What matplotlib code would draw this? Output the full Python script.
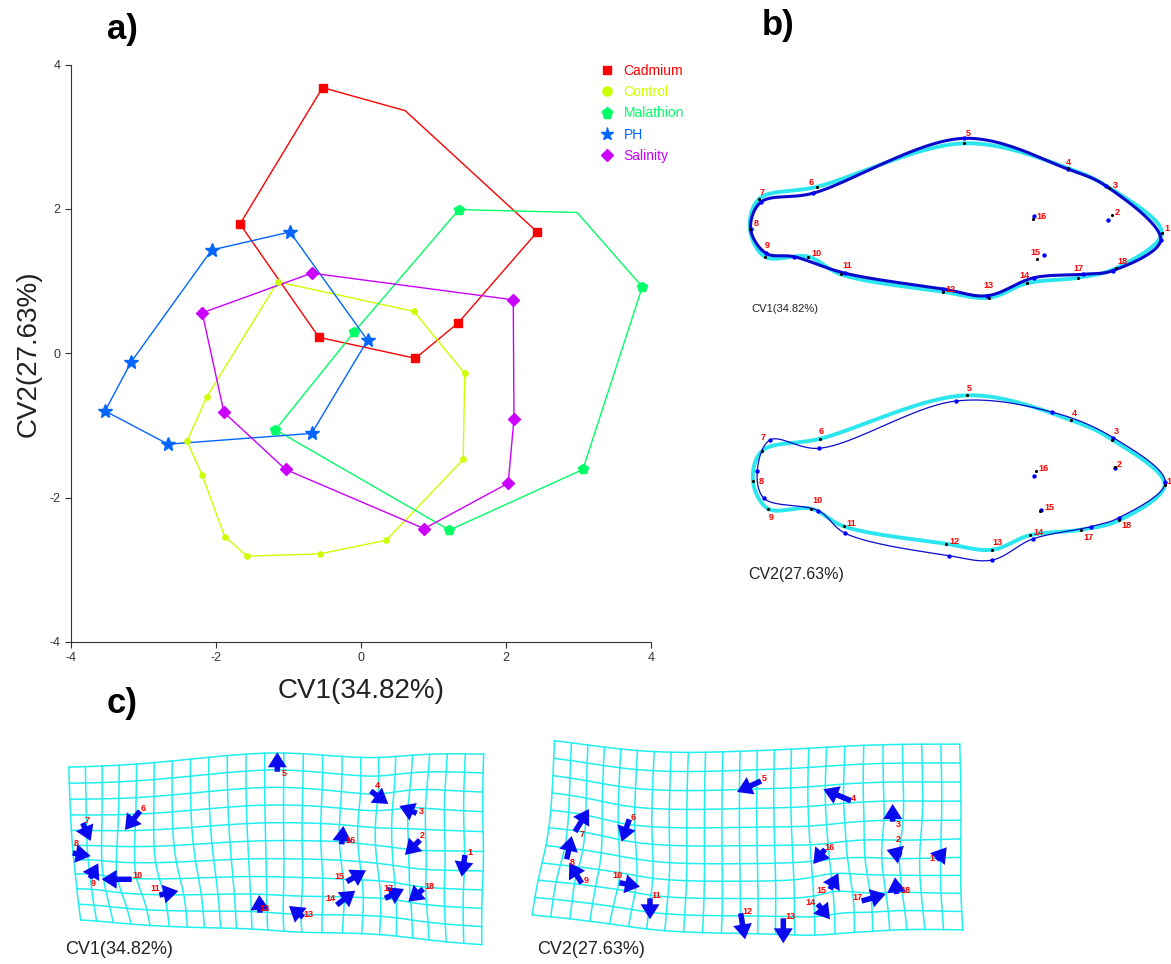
import numpy as np
import matplotlib
matplotlib.use("Agg")
import matplotlib.pyplot as plt
from matplotlib.lines import Line2D

plt.rcParams["font.family"] = ["Liberation Sans", "DejaVu Sans"]
plt.rcParams["axes.unicode_minus"] = False

W, H = 1171, 964

# ---- a) CV scores, outline polygon per group (hull vertices in drawing order)
GROUPS = ["Cadmium", "Control", "Malathion", "PH", "Salinity"]
COLORS = ["#FF0000", "#CCFF00", "#00FF66", "#0066FF", "#CC00FF"]
MARKERS = ["s", "o", "p", "*", "D"]
MSIZE = [5.5, 3.8, 7.5, 10, 6]

cad_x = [-0.53, 2.43, 1.34, 0.75, -0.58, -1.67]
cad_y = [3.68, 1.68, 0.42, -0.07, 0.22, 1.79]
cad_hull_x = [-0.53, 0.61, 2.43, 1.34, 0.75, -0.58, -1.67]
cad_hull_y = [3.68, 3.36, 1.68, 0.42, -0.07, 0.22, 1.79]

ctl_x = [-1.15, 0.73, 1.43, 1.41, 0.35, -0.57, -1.57, -1.88, -2.19, -2.40, -2.13]
ctl_y = [0.99, 0.58, -0.28, -1.47, -2.59, -2.78, -2.81, -2.54, -1.69, -1.22, -0.61]

mal_x = [1.35, 3.88, 3.06, 1.22, -1.18, -0.09]
mal_y = [1.99, 0.92, -1.61, -2.45, -1.06, 0.30]
mal_hull_x = [1.35, 2.98, 3.88, 3.06, 1.22, -1.18, -0.09]
mal_hull_y = [1.99, 1.95, 0.92, -1.61, -2.45, -1.06, 0.30]

ph_x = [-0.98, -2.06, -3.17, -3.53, -2.66, -0.68, 0.09]
ph_y = [1.68, 1.43, -0.12, -0.80, -1.26, -1.11, 0.18]

sal_x = [-0.68, 2.10, 2.11, 2.03, 0.87, -1.04, -1.89, -2.19]
sal_y = [1.11, 0.74, -0.91, -1.80, -2.43, -1.61, -0.82, 0.56]

POINTS = [(cad_x, cad_y), (ctl_x, ctl_y), (mal_x, mal_y), (ph_x, ph_y), (sal_x, sal_y)]
HULLS = [(cad_hull_x, cad_hull_y), (ctl_x, ctl_y), (mal_hull_x, mal_hull_y),
         (ph_x, ph_y), (sal_x, sal_y)]

# ---- b) landmark configurations (consensus and CV shape changes), 18 landmarks
cons_x = [1161.7, 1111.7, 1109.3, 1068.3, 964.3, 817.3, 759.0, 750.0, 765.0,
          808.3, 840.7, 942.7, 989.3, 1026.7, 1037.3, 1033.3, 1078.3, 1116.0]
cons_y = [232.7, 215.0, 187.7, 168.3, 143.3, 186.7, 199.0, 229.3, 256.7,
          256.7, 274.3, 291.7, 297.7, 283.3, 259.3, 219.3, 277.7, 268.3]
cv1_x = [1160.7, 1107.7, 1106.0, 1068.3, 964.3, 812.7, 760.7, 750.7, 766.0,
         794.0, 845.3, 943.3, 987.3, 1034.0, 1044.0, 1034.0, 1083.3, 1112.7]
cv1_y = [240.0, 219.7, 186.0, 169.3, 138.3, 193.3, 202.3, 229.3, 253.3,
         256.7, 273.3, 289.0, 295.7, 277.7, 255.0, 215.7, 274.3, 270.7]
cv2_x = [1162.3, 1112.0, 1110.3, 1048.7, 953.0, 816.0, 767.0, 754.3, 761.0,
         815.3, 842.3, 946.0, 989.3, 1029.7, 1038.3, 1031.0, 1087.7, 1116.0]
cv2_y = [230.3, 216.3, 185.7, 160.0, 149.0, 196.3, 188.0, 218.7, 246.3,
         258.7, 281.3, 303.7, 308.0, 287.0, 258.0, 223.7, 274.7, 265.7]
OUTLINE = [1, 3, 4, 5, 6, 7, 8, 9, 10, 11, 12, 13, 14, 17, 18]
LBL_B1 = [(5, -4.3), (5.7, -2.3), (6.3, -2), (0, -6), (4, -10), (-6.3, -4),
          (3.3, -6.7), (6.7, -5.3), (2.7, -10.7), (8.3, -3.3), (7, -8.7), (8, -2.7),
          (-1, -11.7), (-2.3, -8), (-1.7, -7), (8.3, -2.7), (0, -9), (6.3, -7)]
LBL_B2 = [(4.3, -3.3), (4.3, -2.3), (4, -8.7), (3.3, -7), (2, -7), (0.7, -7),
          (0.7, -13.3), (8.3, 0), (3.3, 8.3), (5.7, -8.3), (7.3, -2.7), (8.3, -2.7),
          (5, -7), (9, -3), (9, -3.7), (7.3, -2.3), (6.7, 7.7), (7.7, 5)]

# ---- c) deformation grids: arrow tails (consensus) and heads
c1_tx = [465.0, 420.0, 416.7, 370.7, 277.3, 140.0, 82.7, 72.7, 90.0,
         131.7, 159.3, 260.0, 303.3, 336.7, 346.7, 341.7, 385.0, 423.3]
c1_ty = [855.0, 840.0, 813.3, 791.0, 771.7, 811.0, 823.0, 853.0, 878.3,
         879.3, 895.0, 912.7, 917.3, 905.0, 881.7, 844.3, 898.3, 889.0]
c1_hx = [461.7, 405.0, 399.3, 388.3, 277.3, 125.0, 90.7, 90.7, 98.3,
         101.7, 178.3, 259.3, 289.0, 355.3, 366.0, 343.3, 404.0, 408.3]
c1_hy = [876.7, 855.0, 806.0, 804.0, 752.3, 830.0, 841.0, 856.0, 863.3,
         879.3, 891.0, 895.0, 906.0, 890.7, 870.3, 826.0, 889.0, 901.7]
c2_tx = [936.7, 901.7, 892.7, 851.0, 761.0, 629.3, 575.0, 566.7, 581.7,
         619.3, 650.0, 740.7, 783.3, 817.7, 830.0, 825.0, 861.7, 896.7]
c2_ty = [860.0, 855.0, 821.7, 800.7, 781.0, 819.3, 831.7, 859.3, 883.3,
         882.7, 898.3, 913.3, 918.3, 904.0, 889.3, 849.3, 901.0, 894.0]
c2_hx = [946.7, 886.7, 892.7, 823.3, 737.0, 621.7, 589.0, 571.7, 569.3,
         640.0, 650.0, 745.0, 783.3, 830.0, 838.3, 813.3, 885.7, 895.0]
c2_hy = [847.3, 850.0, 804.0, 789.3, 792.0, 841.7, 809.0, 836.0, 862.7,
         886.7, 919.3, 939.3, 943.3, 919.3, 873.3, 864.0, 894.0, 877.3]
# grid corners TL, TR, BR, BL
c1_corners = [(64, 760), (484, 753), (483, 941), (72, 927)]
c2_corners = [(554, 748), (955, 753), (957, 933), (539, 923)]
LBL_C1 = [(5, -2.3), (2.7, -4.3), (5, -1.6), (6.6, -5.3), (6.7, 1.6), (3.3, -2),
          (4.6, -2), (3.3, -9.3), (3.3, 5), (5.6, -3.3), (-4.3, -6.7), (4, -3.7),
          (5, -3), (-6, -6), (-7.4, -5), (9.3, -3.3), (3.3, -9.3), (6, -2.3)]
LBL_C2 = [(-4.4, -1.7), (-3.4, -15), (5.6, 2.6), (2.3, -2.4), (3.3, -2.7), (4, -2),
          (6.7, 2.6), (6, 3.4), (4.3, -2.6), (-2, -6.7), (6, -2.3), (7, -1.6),
          (6.7, -1.6), (-7.7, -1.7), (-9, 1.4), (5, -2), (-4, -3.7), (8.3, -3.3)]
NCOL, NROW = 23, 10
GRID_GAIN = 0.22


def px_axes(fig, x0, y0, w, h, dx=0, dy=0):
    """axes placed by figure pixels, data units = pixels (shifted by dx, dy)"""
    ax = fig.add_axes([x0 / W, 1 - (y0 + h) / H, w / W, h / H])
    ax.set_xlim(x0 - dx, x0 - dx + w)
    ax.set_ylim(y0 - dy + h, y0 - dy)
    ax.axis("off")
    return ax


def catmull_closed(px, py, n=24, alpha=0.5):
    P = np.column_stack([px, py]).astype(float)
    N = len(P)
    out = []
    for i in range(N):
        p0, p1, p2, p3 = P[(i - 1) % N], P[i], P[(i + 1) % N], P[(i + 2) % N]
        t0 = 0.0
        t1 = t0 + np.linalg.norm(p1 - p0) ** alpha
        t2 = t1 + np.linalg.norm(p2 - p1) ** alpha
        t3 = t2 + np.linalg.norm(p3 - p2) ** alpha
        t = np.linspace(t1, t2, n, endpoint=False)[:, None]
        a1 = (t1 - t) / (t1 - t0) * p0 + (t - t0) / (t1 - t0) * p1
        a2 = (t2 - t) / (t2 - t1) * p1 + (t - t1) / (t2 - t1) * p2
        a3 = (t3 - t) / (t3 - t2) * p2 + (t - t2) / (t3 - t2) * p3
        b1 = (t2 - t) / (t2 - t0) * a1 + (t - t0) / (t2 - t0) * a2
        b2 = (t3 - t) / (t3 - t1) * a2 + (t - t1) / (t3 - t1) * a3
        out.append((t2 - t) / (t2 - t1) * b1 + (t - t1) / (t2 - t1) * b2)
    out.append(P[:1])
    c = np.vstack(out)
    return c[:, 0], c[:, 1]


def tps_disp(src, disp, pts, scale=100.0):
    s, p = src / scale, pts / scale
    n = len(s)

    def U(r):
        with np.errstate(divide="ignore", invalid="ignore"):
            v = r ** 2 * np.log(r)
        return np.nan_to_num(v)

    L = np.zeros((n + 3, n + 3))
    L[:n, :n] = U(np.linalg.norm(s[:, None] - s[None], axis=2))
    Pm = np.hstack([np.ones((n, 1)), s])
    L[:n, n:] = Pm
    L[n:, :n] = Pm.T
    rhs = np.zeros((n + 3, 2))
    rhs[:n] = disp
    coef = np.linalg.solve(L, rhs)
    Kp = U(np.linalg.norm(p[:, None] - s[None], axis=2))
    return Kp @ coef[:n] + np.hstack([np.ones((len(p), 1)), p]) @ coef[n:]


def draw_outline_panel(ax, tx, ty, lw_target, lbl):
    o = [i - 1 for i in OUTLINE]
    cx, cy = catmull_closed(np.array(cons_x)[o], np.array(cons_y)[o])
    ax.plot(cx, cy, color="#2BE6EE", lw=2.8, solid_capstyle="round", zorder=1)
    bx, by = catmull_closed(np.array(tx)[o], np.array(ty)[o])
    ax.plot(bx, by, color="#0A0ACD", lw=lw_target, zorder=2)
    ax.scatter(tx, ty, s=10, color="#0000FF", zorder=3, lw=0)
    ax.scatter(cons_x, cons_y, s=5, color="black", zorder=4, lw=0)
    for i, (dx, dy) in enumerate(lbl):
        ax.text(cons_x[i] + dx, cons_y[i] + dy, str(i + 1), color="red", fontsize=6.5,
                fontweight="bold", ha="center", va="center", zorder=5, clip_on=False)


def draw_grid_panel(ax, corners, tx, ty, hx, hy, lbl):
    TL, TR, BR, BL = [np.array(c, float) for c in corners]
    src = np.column_stack([tx, ty])
    disp = (np.column_stack([hx, hy]) - src) * GRID_GAIN

    def base(u, v):
        top = TL + (TR - TL) * u[:, None]
        bot = BL + (BR - BL) * u[:, None]
        return top + (bot - top) * v[:, None]

    for u in np.linspace(0, 1, NCOL + 1):
        v = np.linspace(0, 1, 60)
        p = base(np.full_like(v, u), v)
        p = p + tps_disp(src, disp, p)
        ax.plot(p[:, 0], p[:, 1], color="#22EEEE", lw=1.1, zorder=1)
    for v in np.linspace(0, 1, NROW + 1):
        u = np.linspace(0, 1, 120)
        p = base(u, np.full_like(u, v))
        p = p + tps_disp(src, disp, p)
        ax.plot(p[:, 0], p[:, 1], color="#22EEEE", lw=1.1, zorder=1)
    for i in range(len(tx)):
        ax.arrow(tx[i], ty[i], hx[i] - tx[i], hy[i] - ty[i], width=5.5, head_width=19,
                 head_length=15, length_includes_head=True, color="#0A0AEE", lw=0, zorder=3)
        dx, dy = lbl[i]
        ax.text(tx[i] + dx, ty[i] + dy, str(i + 1), color="red", fontsize=6.5,
                fontweight="bold", ha="center", va="center", zorder=4)


fig = plt.figure(figsize=(W / 100, H / 100), dpi=100)

# panel a
ax = fig.add_axes([71 / W, 1 - 642 / H, (651 - 71) / W, (642 - 64.5) / H])
for (px_, py_), (hx_, hy_), c, m, ms in zip(POINTS, HULLS, COLORS, MARKERS, MSIZE):
    ax.plot(list(hx_) + [hx_[0]], list(hy_) + [hy_[0]], color=c, lw=1.0, zorder=2)
    ax.plot(px_, py_, ls="none", marker=m, ms=ms, color=c, mec=c, zorder=3, clip_on=False)
ax.set_xlim(-4, 4)
ax.set_ylim(-4, 4)
ax.set_xticks([-4, -2, 0, 2, 4])
ax.set_yticks([-4, -2, 0, 2, 4])
for s in ("top", "right"):
    ax.spines[s].set_visible(False)
for s in ("left", "bottom"):
    ax.spines[s].set_color("#333333")
ax.tick_params(labelsize=9, length=4, colors="#333333")
ax.set_xlabel("CV1(34.82%)", fontsize=20, labelpad=10, color="#222222")
ax.set_ylabel("CV2(27.63%)", fontsize=20, labelpad=6, color="#222222")
handles = [Line2D([], [], ls="none", marker=m, ms=ms * 0.95, color=c, label=g)
           for g, c, m, ms in zip(GROUPS, COLORS, MARKERS, [6, 7, 8.5, 10, 6.5])]
ax.legend(handles=handles, loc="upper left", bbox_to_anchor=(600 / W, 1 - 64 / H),
          bbox_transform=fig.transFigure, frameon=False, fontsize=10, handlelength=1.0,
          handletextpad=0.7, labelspacing=0.52, borderpad=0, borderaxespad=0,
          labelcolor="linecolor")

# panel b
axb1 = px_axes(fig, 735, 120, 436, 210)
draw_outline_panel(axb1, cv1_x, cv1_y, 2.2, LBL_B1)
axb2 = px_axes(fig, 735, 372, 436, 210, dx=3, dy=252)
draw_outline_panel(axb2, cv2_x, cv2_y, 0.9, LBL_B2)

# panel c
axc = px_axes(fig, 30, 730, 960, 234)
draw_grid_panel(axc, c1_corners, c1_tx, c1_ty, c1_hx, c1_hy, LBL_C1)
draw_grid_panel(axc, c2_corners, c2_tx, c2_ty, c2_hx, c2_hy, LBL_C2)


# texts
def ftext(x, y, s, **kw):
    fig.text(x / W, 1 - y / H, s, **kw)


ftext(122, 30, "a)", fontsize=25, fontweight="bold", ha="center", va="center")
ftext(778, 25, "b)", fontsize=25, fontweight="bold", ha="center", va="center")
ftext(122, 703, "c)", fontsize=25, fontweight="bold", ha="center", va="center")
ftext(751, 309, "CV1(34.82%)", fontsize=8, ha="left", va="center", color="#222222")
ftext(748, 575, "CV2(27.63%)", fontsize=11.5, ha="left", va="center", color="#222222")
ftext(65, 950, "CV1(34.82%)", fontsize=13, ha="left", va="center", color="#222222")
ftext(537, 950, "CV2(27.63%)", fontsize=13, ha="left", va="center", color="#222222")

fig.savefig("out.png", dpi=100)
